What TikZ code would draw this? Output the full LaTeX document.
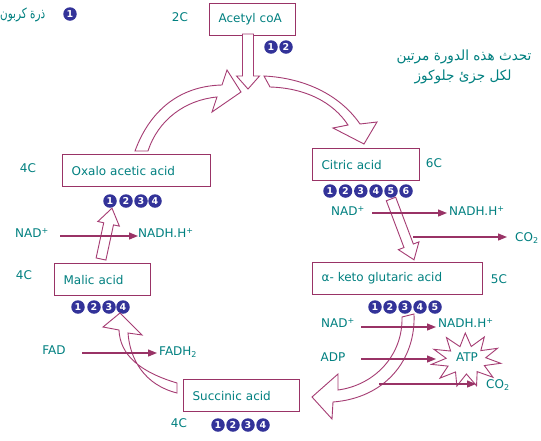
\documentclass[tikz,border=0pt]{standalone}
\usepackage{fontspec}
\usepackage{graphicx}
\setmainfont{DejaVu Sans}
\newfontfamily\arabicfont[Script=Arabic]{DejaVu Sans}
\TeXXeTstate=1
\usetikzlibrary{arrows.meta,calc}
\definecolor{boxc}{RGB}{153,51,102}
\definecolor{arrc}{RGB}{165,60,115}
\definecolor{txtc}{RGB}{0,128,128}
\definecolor{numc}{RGB}{51,51,153}
\newcommand\hollowarr[7]{%
\begin{scope}[shift={(#1,#2)},rotate=#3]
\draw[hollow] (0,#5) -- ({#4-#7},#5) -- ({#4-#7},#6) -- (#4,0) -- ({#4-#7},-#6) -- ({#4-#7},-#5) -- (0,-#5) -- cycle;
\end{scope}}
\begin{document}
\begin{tikzpicture}[x=1pt,y=-1pt,
  font=\fontsize{12}{14}\selectfont,
  every node/.style={text=txtc},
  box/.style={draw=boxc, line width=1.2pt, anchor=north west, minimum height=32pt, inner xsep=9pt, inner ysep=0pt, align=left, text width=#1},
  lbl/.style={inner sep=0pt},
  ar/.style={inner sep=0pt, font=\arabicfont\fontsize{14}{16}\selectfont},
  num/.style={circle, fill=numc, text=white, font=\bfseries\fontsize{9.5}{10}\selectfont, inner sep=0pt, minimum size=13.5pt},
  hollow/.style={draw=arrc, line width=0.9pt, fill=white, line join=miter},
  flow/.style={draw=boxc, line width=1.2pt, -{Triangle[length=9pt,width=7pt]}}]
\useasboundingbox (0,0) rectangle (541,440);
\fill[white] (0,0) rectangle (541,440);

% boxes
\node[box=68pt] (acetyl) at (209,3) {Acetyl coA};
\node[box=130pt] (oxalo) at (62,154) {Oxalo acetic acid};
\node[box=89pt] (citric) at (312,148) {Citric acid};
\node[box=78pt] (malic) at (54,263) {Malic acid};
\node[box=152pt] (keto) at (312,262) {α- keto glutaric acid};
\node[box=98pt] (succ) at (183,379) {Succinic acid};

% carbon counts
\node[lbl] (c2) at (180,17) {2C};
\node[lbl] (c6) at (434,163) {6C};
\node[lbl] (c5) at (499,279) {5C};
\node[lbl] (c4a) at (28,168) {4C};
\node[lbl] (c4b) at (24,275) {4C};
\node[lbl] (c4c) at (179,423) {4C};

% arabic texts
\node[ar, anchor=west] (legend) at (0,15) {\resizebox{45pt}{\height}{\beginR ذرة كربون\endR}};
\node[num] (legn) at (70,14) {1};
\node[ar] (note1) at (464,57) {\resizebox{135pt}{\height}{\beginR تحدث هذه الدورة مرتين\endR}};
\node[ar] (note2) at (463,77) {\resizebox{97pt}{\height}{\beginR لكل جزئ جلوكوز\endR}};

% numbered circles
\foreach \i/\x in {1/271,2/286} \node[num] (na\i) at (\x,47) {\i};
\foreach \i/\x in {1/330,2/345.5,3/360.8,4/376,5/391,6/406} \node[num] (nc\i) at (\x,191) {\i};
\foreach \i/\x in {1/375,2/390,3/405,4/420,5/435} \node[num] (nk\i) at (\x,307) {\i};
\foreach \i/\x in {1/110,2/126,3/141,4/155} \node[num] (no\i) at (\x,201) {\i};
\foreach \i/\x in {1/78,2/94,3/109,4/123} \node[num] (nm\i) at (\x,307) {\i};
\foreach \i/\x in {1/218,2/233,3/248,4/263} \node[num] (ns\i) at (\x,425) {\i};

% hollow arrows
\hollowarr{248}{34}{-90}{55}{5.5}{11.5}{13}
\hollowarr{101}{259}{77.8}{52}{5}{11}{16}
\hollowarr{391}{199}{-69.3}{65}{5}{11}{15}
\draw[hollow] (135,151) .. controls (150,110) and (180,86) .. (222,85) -- (227,70) -- (241,92) -- (212,112) -- (217,97) .. controls (185,100) and (158,120) .. (148,151) -- cycle;
\draw[hollow] (264,76) .. controls (305,78) and (340,95) .. (360,124) -- (377,122) -- (364,144) -- (333,128) -- (348,125) .. controls (333,102) and (305,88) .. (270,87) -- cycle;
\draw[hollow] (414,314) .. controls (416,360) and (385,398) .. (333,402) -- (332,419) -- (312,397) -- (338,374) -- (338,390) .. controls (375,385) and (403,355) .. (402,317) -- cycle;
\draw[hollow] (177,383) .. controls (140,372) and (120,355) .. (119,330) -- (103,327) -- (120,313) -- (142,335) -- (128,333) .. controls (130,360) and (145,385) .. (177,393) -- cycle;

% ATP star
\draw[hollow] plot[samples at={0,...,21}, variable=\k] ({466+ifthenelse(mod(\k,2)==0,35,20)*cos(\k*360/22+7)}, {360+ifthenelse(mod(\k,2)==0,27,14)*sin(\k*360/22+7)}) -- cycle;
\node[lbl] (atp) at (467,357) {ATP};

% side texts
\node[lbl] (nad1) at (32,233) {NAD\textsuperscript{+}};
\node[lbl, anchor=west] (nadh1) at (138,233) {NADH.H\textsuperscript{+}};
\node[lbl] (nad2) at (348,211) {NAD\textsuperscript{+}};
\node[lbl, anchor=west] (nadh2) at (449,211) {NADH.H\textsuperscript{+}};
\node[lbl, anchor=west] (co2a) at (515,238) {CO\textsubscript{2}};
\node[lbl] (nad3) at (338,323) {NAD\textsuperscript{+}};
\node[lbl, anchor=west] (nadh3) at (438,323) {NADH.H\textsuperscript{+}};
\node[lbl] (adp) at (333,357) {ADP};
\node[lbl, anchor=west] (co2b) at (486,385) {CO\textsubscript{2}};
\node[lbl] (fad) at (54,350) {FAD};
\node[lbl, anchor=west] (fadh) at (159,352) {FADH\textsubscript{2}};

% thin arrows
\coordinate (s1) at (60,236);
\coordinate (s2) at (372,213);
\coordinate (s3) at (413,237);
\coordinate (s4) at (361,327);
\coordinate (s5) at (361,359);
\coordinate (s6) at (379,384);
\coordinate (s7) at (82,353);
\draw[flow] (s1) -- (s1 -| nadh1.west);
\draw[flow] (s2) -- ([xshift=-2pt]s2 -| nadh2.west);
\draw[flow] (s3) -- ([xshift=-8pt]s3 -| co2a.west);
\draw[flow] (s4) -- ([xshift=-2pt]s4 -| nadh3.west);
\draw[flow] (s5) -- (436,359);
\draw[flow] (s6) -- ([xshift=-10pt]s6 -| co2b.west);
\draw[flow] (s7) -- ([xshift=-2pt]s7 -| fadh.west);
\end{tikzpicture}
\end{document}
